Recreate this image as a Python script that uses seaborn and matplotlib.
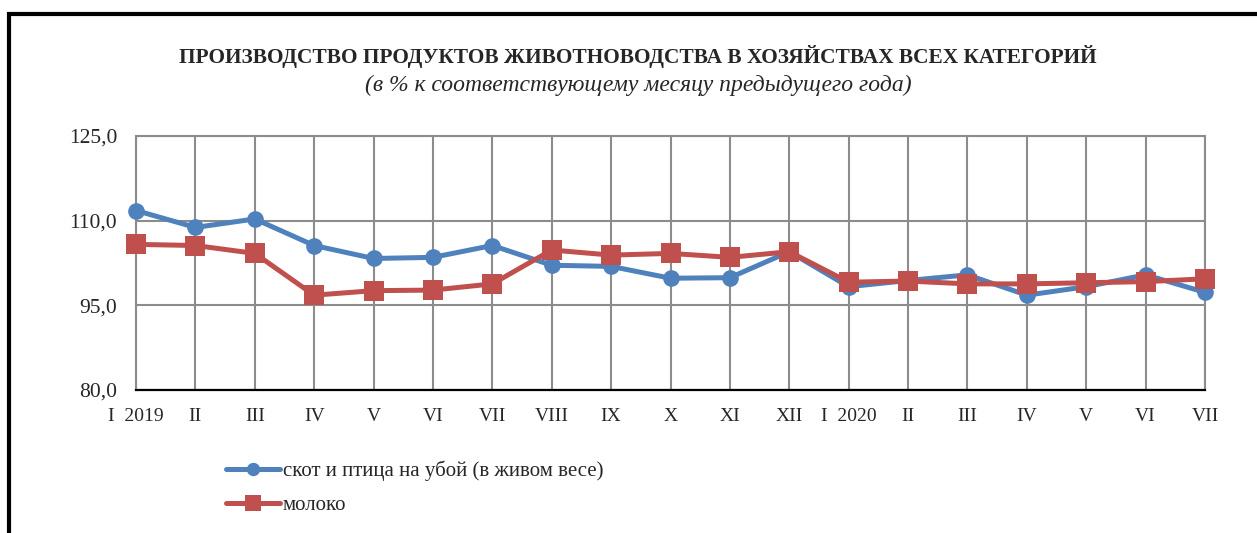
import numpy as np
import pandas as pd
import matplotlib.pyplot as plt
import seaborn as sns
from matplotlib.patches import Rectangle

# data
months = ["I  2019", "II", "III", "IV", "V", "VI", "VII", "VIII", "IX", "X", "XI", "XII",
          "I  2020", "II", "III", "IV", "V", "VI", "VII"]
skot = [111.8, 108.8, 110.3, 105.6, 103.3, 103.5, 105.6, 102.1, 101.9, 99.8, 99.9, 104.5,
        98.3, 99.4, 100.4, 96.8, 98.3, 100.4, 97.3]
moloko = [105.8, 105.6, 104.2, 96.8, 97.6, 97.7, 98.8, 104.8, 103.9, 104.2, 103.5, 104.5,
          99.1, 99.3, 98.8, 98.8, 99.0, 99.2, 99.7]
yticks = [80, 95, 110, 125]
name_skot = "скот и птица на убой (в живом весе)"
name_moloko = "молоко"

sns.set_style("white")
plt.rcParams['font.family'] = ['Liberation Serif', 'DejaVu Serif']

df = pd.DataFrame({"pos": np.arange(len(months)), "skot": skot, "moloko": moloko})

fig = plt.figure(figsize=(12.57, 5.33), dpi=100)
ax = fig.add_axes([136/1257, 1-390/533, (1205-136)/1257, (390-136)/533])

#outer frame
fig.patches.append(Rectangle((9/1257, -0.1), 1.2, (533-14)/533 + 0.1, transform=fig.transFigure,
                             fill=False, ec="black", lw=3, zorder=10))

sns.lineplot(x="pos", y="skot", data=df, ax=ax, color="#4F81BD", lw=3.6, marker="o",
             markersize=12, markeredgewidth=0, label=name_skot, clip_on=False, zorder=3)
sns.lineplot(x="pos", y="moloko", data=df, ax=ax, color="#C0504D", lw=3.6, marker="s",
             markersize=14, markeredgewidth=0, label=name_moloko, clip_on=False, zorder=4)

ax.set_xlim(0, len(months)-1)
ax.set_ylim(80, 125)
ax.set_xticks(df["pos"])
ax.set_xticklabels(months, fontsize=14)
ax.set_yticks(yticks)
ax.set_yticklabels([f"{v},0" for v in yticks], fontsize=15.5)
ax.tick_params(axis="both", length=0)
ax.tick_params(axis="x", pad=13)
ax.tick_params(axis="y", pad=13.5)
ax.set_xlabel("")
ax.set_ylabel("")
ax.grid(True, color="#8c8c8c", lw=1.5)
for s in ["left", "top", "right"]:
    ax.spines[s].set_color("#8c8c8c")
    ax.spines[s].set_linewidth(1.5)
ax.spines["bottom"].set_color("black")
ax.spines["bottom"].set_linewidth(1.6)

ax.legend(loc="upper left", bbox_to_anchor=(207/1257, 1-442/533), bbox_transform=fig.transFigure,
          frameon=False, fontsize=15, handlelength=2.6, handletextpad=0.15, labelspacing=0.7,
          markerscale=0.8)

fig.text(638/1257, 1-57/533, "ПРОИЗВОДСТВО ПРОДУКТОВ ЖИВОТНОВОДСТВА В ХОЗЯЙСТВАХ ВСЕХ КАТЕГОРИЙ",
         ha="center", va="center", fontsize=15.4, fontweight="bold")
fig.text(638/1257, 1-85/533, "(в % к соответствующему месяцу предыдущего года)",
         ha="center", va="center", fontsize=17, style="italic")

fig.savefig("out.png", dpi=100)
